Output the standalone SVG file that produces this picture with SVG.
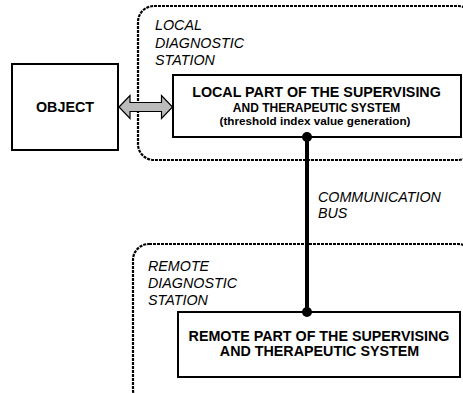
<svg xmlns="http://www.w3.org/2000/svg" width="463" height="393" viewBox="0 0 463 393">
<style>
.station{fill:none;stroke:#000;stroke-width:2.2;stroke-dasharray:3 1}
.box{fill:#fff;stroke:#000;stroke-width:2}
.lbl{font-family:"Liberation Sans",Arial,sans-serif;font-style:italic;font-size:14.3px;fill:#000}
.b{font-family:"Liberation Sans",Arial,sans-serif;font-weight:bold;fill:#000;text-anchor:middle}
</style>
<rect width="463" height="393" fill="#fff"/>
<g id="local-station">
<rect class="station" x="138" y="6" width="336" height="154" rx="16"/>
<text class="lbl" x="155" y="29.5">LOCAL</text>
<text class="lbl" x="155" y="47.5">DIAGNOSTIC</text>
<text class="lbl" x="155" y="64.5">STATION</text>
</g>
<g id="remote-station">
<rect class="station" x="133" y="244" width="341" height="162" rx="16"/>
<text class="lbl" x="148" y="271">REMOTE</text>
<text class="lbl" x="148" y="288">DIAGNOSTIC</text>
<text class="lbl" x="148" y="305">STATION</text>
</g>
<g id="object">
<rect class="box" x="12" y="64" width="106" height="86"/>
<text class="b" x="65" y="111.5" font-size="14.3">OBJECT</text>
</g>
<g id="local-part">
<rect class="box" x="173" y="75" width="288" height="62"/>
<text class="b" x="316.5" y="97.3" font-size="14.3">LOCAL PART OF THE SUPERVISING</text>
<text class="b" x="316.5" y="111.5" font-size="12">AND THERAPEUTIC SYSTEM</text>
<text class="b" x="315" y="125" font-size="11.7">(threshold index value generation)</text>
</g>
<g id="remote-part">
<rect class="box" x="178" y="312" width="282" height="65"/>
<text class="b" x="319" y="340.5" font-size="14.3">REMOTE PART OF THE SUPERVISING</text>
<text class="b" x="319.5" y="355.5" font-size="14.3">AND THERAPEUTIC SYSTEM</text>
</g>
<g id="connectors">
<path d="M119,107 L130,95.5 L130,102.5 L161.5,102.5 L161.5,95.5 L172.5,107 L161.5,118.5 L161.5,111.5 L130,111.5 L130,118.5 Z" fill="#bbb" stroke="#000" stroke-width="1.2" stroke-linejoin="miter"/>
<line x1="307" y1="137" x2="307" y2="312" stroke="#000" stroke-width="4"/>
<circle cx="307" cy="137" r="5"/>
<circle cx="307" cy="312" r="5"/>
<text class="lbl" x="318" y="201.7">COMMUNICATION</text>
<text class="lbl" x="318" y="218.3">BUS</text>
</g>
</svg>
